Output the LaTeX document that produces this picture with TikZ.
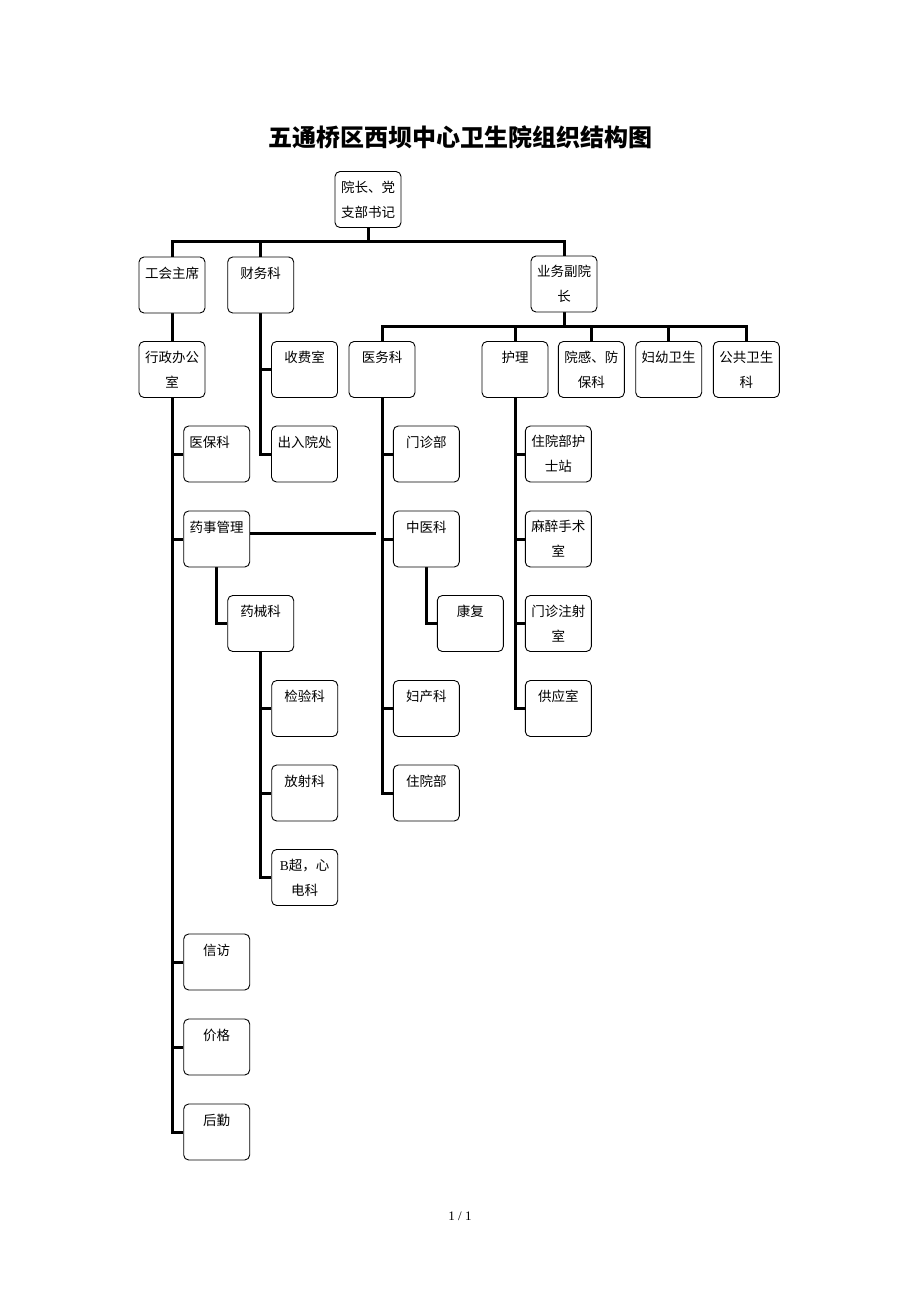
\documentclass[tikz,border=0pt]{standalone}
\usepackage{fontspec}
\setmainfont{Liberation Serif}
\newfontfamily\cjk{Noto Sans CJK SC}
\usetikzlibrary{backgrounds}
\tikzset{
  dept/.style={draw, rounded corners=5pt, line width=0.9pt, fill=white,
    minimum width=66pt, minimum height=56pt, text width=64pt, align=center,
    inner sep=0pt, font=\cjk\fontsize{13.5}{25}\selectfont},
  conn/.style={line width=3pt},
}
\begin{document}
\begin{tikzpicture}[x=1pt,y=-1pt]
      \useasboundingbox (0,0) rectangle (920,1302);

      \node[font=\cjk\bfseries\fontsize{24}{28}\selectfont] (title) at (460,137)
        {五通桥区西坝中心卫生院组织结构图};

      %%%%  top levels
      \node[dept] (dean) at (368,199.5) {院长、党\\支部书记};
      \node[dept] (union) at (172,285) {工会主席\\~};
      \node[dept] (finance) at (260.7,285) {财务科\\~};
      \node[dept] (vice) at (564,284) {业务副院\\长};

      \node[dept] (admin) at (172,369.5) {行政办公\\室};
      \node[dept] (charge) at (304.5,369.5) {收费室\\~};
      \node[dept] (medical) at (382,369.5) {医务科\\~};
      \node[dept] (nursing) at (515,369.5) {护理\\~};
      \node[dept] (infection) at (591.3,369.5) {院感、防\\保科};
      \node[dept] (maternal) at (668.7,369.5) {妇幼卫生\\~};
      \node[dept] (public) at (746.3,369.5) {公共卫生\\科};

      %%%%  admin column
      \node[dept] (insurance) at (216.7,454) {医保科\hspace*{14pt}\null\\~};
      \node[dept] (pharmacy) at (216.7,539) {药事管理\\~};
      \node[dept] (drugs) at (260.7,623.5) {药械科\\~};
      \node[dept] (lab) at (304.7,708.5) {检验科\\~};
      \node[dept] (radiology) at (304.7,793) {放射科\\~};
      \node[dept] (ultrasound) at (304.7,877.5) {{\rmfamily B}超，心\\电科};
      \node[dept] (petition) at (216.7,962) {信访\\~};
      \node[dept] (price) at (216.7,1047) {价格\\~};
      \node[dept] (logistics) at (216.7,1132) {后勤\\~};

      %%%%  finance column
      \node[dept] (admission) at (304.5,454) {出入院处\\~};

      %%%%  medical column
      \node[dept] (clinic) at (426.3,454) {门诊部\\~};
      \node[dept] (tcm) at (426.3,539) {中医科\\~};
      \node[dept] (rehab) at (470.3,623.5) {康复\\~};
      \node[dept] (obstetric) at (426.3,708.5) {妇产科\\~};
      \node[dept] (inpatient) at (426.3,793) {住院部\\~};

      %%%%  nursing column
      \node[dept] (ward) at (558.3,454) {住院部护\\士站};
      \node[dept] (surgery) at (558.3,539) {麻醉手术\\室};
      \node[dept] (injection) at (558.3,623.5) {门诊注射\\室};
      \node[dept] (supply) at (558.3,708.5) {供应室\\~};

      \node[font=\fontsize{13}{15}\selectfont] (page) at (460,1216) {1 / 1};

      %%%%  connectors
      \begin{scope}[on background layer]
        \coordinate (bustop) at (368,241);
        \draw[conn] (dean.south) -- (bustop);
        \foreach \n in {union,finance,vice}
          {\draw[conn] (bustop) -| (\n.north);}

        \coordinate (busmid) at (564,326.7);
        \draw[conn] (vice.south) -- (busmid);
        \foreach \n in {medical,nursing,infection,maternal,public}
          {\draw[conn] (busmid) -| (\n.north);}

        \draw[conn] (union) -- (admin);
        \foreach \n in {insurance,pharmacy,petition,price,logistics}
          {\draw[conn] (admin.south) |- (\n.west);}
        \foreach \n in {charge,admission}
          {\draw[conn] (finance.south) |- (\n.west);}
        \draw[conn] (pharmacy.south) |- (drugs.west);
        \coordinate (pharmend) at (376,533.3);
        \draw[conn] (pharmacy.east |- pharmend) -- (pharmend);
        \foreach \n in {lab,radiology,ultrasound}
          {\draw[conn] (drugs.south) |- (\n.west);}

        \foreach \n in {clinic,tcm,obstetric,inpatient}
          {\draw[conn] (medical.south) |- (\n.west);}
        \draw[conn] (tcm.south) |- (rehab.west);
        \foreach \n in {ward,surgery,injection,supply}
          {\draw[conn] (nursing.south) |- (\n.west);}
      \end{scope}
    \end{tikzpicture}
\end{document}
